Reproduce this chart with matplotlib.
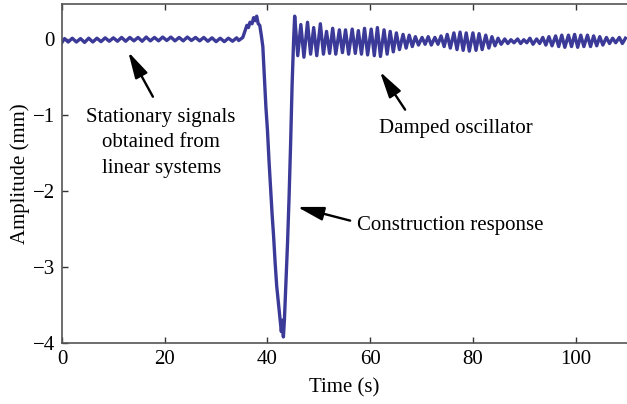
import numpy as np
import matplotlib
matplotlib.use("Agg")
import matplotlib.pyplot as plt

# ---- data ----
# stationary part: troughs and peaks of the small oscillation
stat_trough_t = [0.0, 1.2, 2.8, 4.4, 6.0, 7.6, 9.2, 10.8, 12.4, 14.0, 15.6, 17.2, 18.8, 20.4, 22.0, 23.6, 25.2, 26.8, 28.4, 30.0, 31.6, 33.2]
stat_trough_y = [-0.045, -0.04, -0.04, -0.045, -0.04, -0.035, -0.03, -0.03, -0.03, -0.025, -0.03, -0.025, -0.025, -0.02, -0.025, -0.025, -0.02, -0.025, -0.03, -0.035, -0.035, -0.03]
stat_peak_t = [0.5, 2.0, 3.6, 5.2, 6.8, 8.4, 10.0, 11.6, 13.2, 14.8, 16.4, 18.0, 19.6, 21.2, 22.8, 24.4, 26.0, 27.6, 29.2, 30.8, 32.4, 34.0]
stat_peak_y = [0.005, 0.01, 0.005, 0.01, 0.01, 0.015, 0.015, 0.02, 0.02, 0.02, 0.025, 0.02, 0.025, 0.025, 0.02, 0.025, 0.02, 0.02, 0.015, 0.01, 0.01, 0.015]

# construction response (bump and dip)
event_t = [34.4, 34.8, 35.2, 35.6, 36.0, 36.3, 36.6, 37.0, 37.3, 37.6, 37.9, 38.2, 38.5, 38.8, 39.1, 39.4, 39.7,
           40.0, 40.3, 40.6, 40.9, 41.2, 41.5, 41.8, 42.1, 42.4, 42.7, 42.9, 43.1, 43.3, 43.6, 43.9, 44.2, 44.5, 44.8, 45.1]
event_y = [-0.02, 0.0, 0.02, 0.1, 0.18, 0.15, 0.22, 0.2, 0.28, 0.24, 0.3, 0.2, 0.18, 0.05, -0.1, -0.5, -0.9,
           -1.2, -1.6, -1.95, -2.3, -2.6, -2.95, -3.25, -3.45, -3.65, -3.85, -3.7, -3.92, -3.7, -3.2, -2.7, -2.1, -1.4, -0.6, 0.0]

# damped oscillation: peaks and troughs
damp_peak_t = [45.3, 46.5, 47.8, 49.0, 50.3, 51.5, 52.7, 54.0, 55.2, 56.5, 57.7, 58.9, 60.2, 61.4, 62.7, 63.9, 65.1, 66.4,
               67.6, 68.8, 70.1, 71.3, 72.6, 73.8, 75.0, 76.3, 77.5, 78.7, 80.0, 81.2, 82.5, 83.7, 84.9, 86.2, 87.4, 88.7,
               89.9, 91.1, 92.4, 93.6, 94.8, 96.1, 97.3, 98.6, 99.8, 101.0, 102.3, 103.5, 104.7, 106.0, 107.2, 108.5, 109.7]
damp_peak_y = [0.30, 0.19, 0.22, 0.15, 0.20, 0.10, 0.14, 0.12, 0.12, 0.13, 0.11, 0.14, 0.13, 0.15, 0.12, 0.10, 0.08, 0.06,
               0.05, 0.03, 0.02, 0.03, 0.02, 0.04, 0.06, 0.08, 0.09, 0.08, 0.08, 0.07, 0.05, 0.03, 0.01, 0.0, -0.01, 0.0,
               -0.01, 0.01, 0.0, 0.02, 0.03, 0.04, 0.05, 0.05, 0.06, 0.05, 0.05, 0.04, 0.03, 0.02, 0.01, 0.02, 0.01]
damp_trough_t = [45.9, 47.1, 48.4, 49.6, 50.9, 52.1, 53.3, 54.6, 55.8, 57.1, 58.3, 59.5, 60.8, 62.0, 63.3, 64.5, 65.7, 67.0,
                 68.2, 69.4, 70.7, 71.9, 73.2, 74.4, 75.6, 76.9, 78.1, 79.3, 80.6, 81.8, 83.1, 84.3, 85.5, 86.8, 88.0, 89.3,
                 90.5, 91.7, 93.0, 94.2, 95.4, 96.7, 97.9, 99.2, 100.4, 101.6, 102.9, 104.1, 105.3, 106.6, 107.8, 109.1]
damp_trough_y = [-0.22, -0.24, -0.20, -0.22, -0.20, -0.19, -0.20, -0.18, -0.20, -0.19, -0.20, -0.21, -0.22, -0.23, -0.20, -0.17,
                 -0.14, -0.12, -0.10, -0.08, -0.07, -0.08, -0.07, -0.10, -0.12, -0.14, -0.15, -0.16, -0.15, -0.14, -0.12, -0.09,
                 -0.07, -0.06, -0.05, -0.06, -0.05, -0.07, -0.06, -0.08, -0.09, -0.10, -0.11, -0.10, -0.11, -0.10, -0.10, -0.09,
                 -0.08, -0.06, -0.05, -0.06]

x_ticks = [0, 20, 40, 60, 80, 100]
y_ticks = [-4, -3, -2, -1, 0]

# ---- assemble ----
t_all = np.concatenate([stat_trough_t, stat_peak_t, event_t, damp_peak_t, damp_trough_t])
y_all = np.concatenate([stat_trough_y, stat_peak_y, event_y, damp_peak_y, damp_trough_y])
order = np.argsort(t_all, kind="stable")
t_all = t_all[order]
y_all = y_all[order]

FS = 15
plt.rcParams['font.family'] = ['Liberation Serif', 'DejaVu Serif']
fig = plt.figure(figsize=(6.27, 4.04), dpi=100)
ax = fig.add_axes([62/627, 61/404, 1 - 62/627, (343 - 4)/404])

line_color = '#3b3a98'
ax.plot(t_all, y_all, color=line_color, lw=2.4, solid_joinstyle='round')

ax.set_xlim(0, 110)
ax.set_ylim(-4, 0.46)
ax.set_xticks(x_ticks)
ax.set_yticks(y_ticks)
ax.set_yticklabels(['\u22124', '\u22123', '\u22122', '\u22121', '0'])
ax.tick_params(direction='in', top=True, right=False, labelsize=FS, length=4, width=1, colors='#333333',
               labelcolor='black')
ax.tick_params(axis='x', pad=5)
ax.tick_params(axis='y', pad=5)
for s in ['left', 'bottom', 'top']:
    ax.spines[s].set_color('#555555')
    ax.spines[s].set_linewidth(1.2)
ax.spines['right'].set_visible(False)

ax.set_xlabel('Time (s)', fontsize=FS, labelpad=7)
ax.set_ylabel('Amplitude (mm)', fontsize=FS, labelpad=2)

arrow = dict(arrowstyle='-|>,head_length=1.0,head_width=0.26', color='black', lw=1.7,
             mutation_scale=16, shrinkA=0, shrinkB=0)
ax.annotate('', xy=(12.9, -0.17), xytext=(17.7, -0.76), arrowprops=arrow)
ax.text(19.3, -0.91, 'Stationary signals\nobtained from\nlinear systems', ha='center', va='top',
        fontsize=FS, linespacing=1.45)
ax.annotate('', xy=(61.9, -0.43), xytext=(66.8, -0.93), arrowprops=arrow)
ax.text(76.7, -1.18, 'Damped oscillator', ha='center', va='center', fontsize=FS)
ax.annotate('', xy=(45.8, -2.21), xytext=(56.1, -2.39), arrowprops=arrow)
ax.text(57.4, -2.46, 'Construction response', ha='left', va='center', fontsize=FS)

fig.savefig('out.png', dpi=100)
